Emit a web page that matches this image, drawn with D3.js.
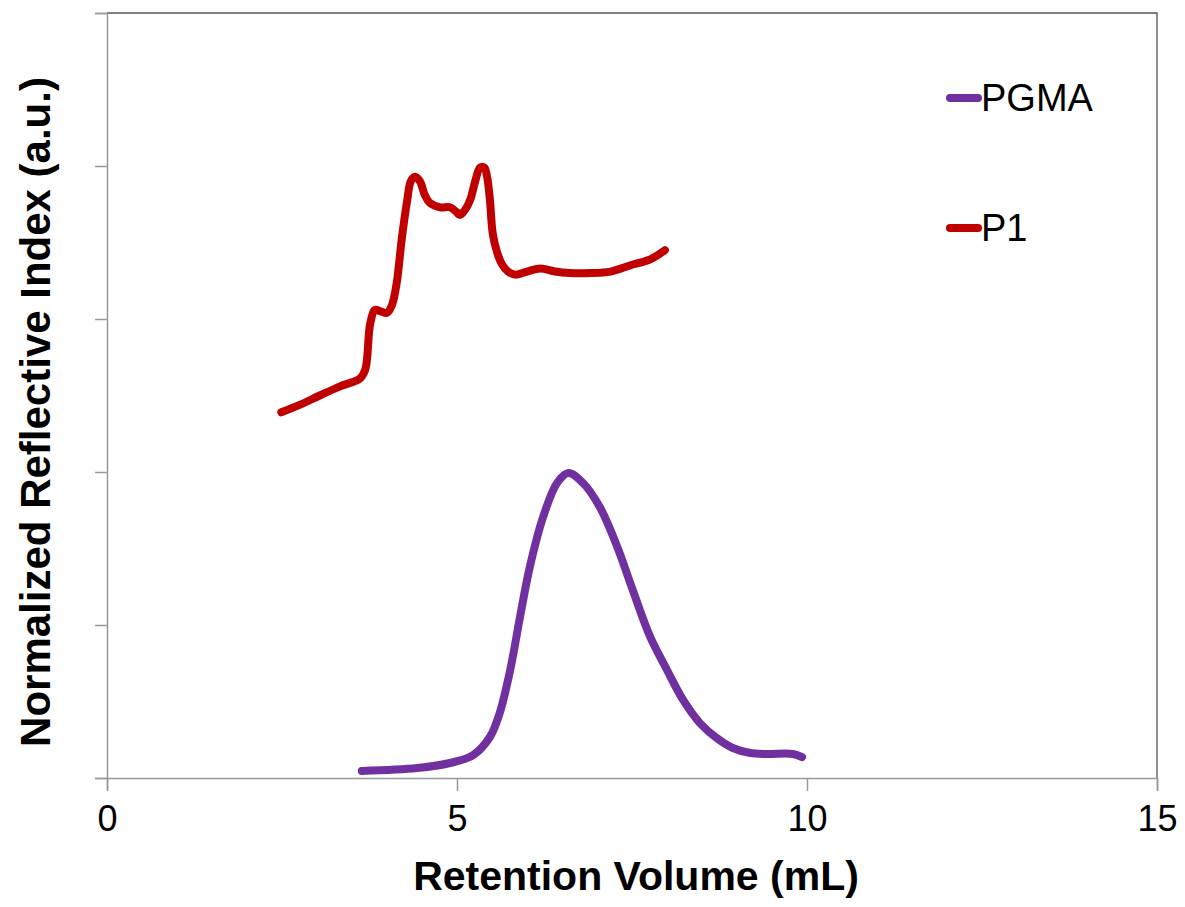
<!DOCTYPE html>
<html>
<head>
<meta charset="utf-8">
<script src="https://cdn.jsdelivr.net/npm/d3@7"></script>
<style>
	body { margin: 0; background: #fff; }
	svg { font-family: "Liberation Sans", Arial, sans-serif; }
</style>
</head>
<body>
<svg width="1185" height="907"></svg>
<script>
// retention volume (mL) / normalized RI
var p1Volume = [2.49, 2.76, 3.04, 3.33, 3.61, 3.69, 3.76, 3.83, 3.91, 4.0, 4.07, 4.14, 4.21, 4.29, 4.34, 4.4,
	4.47, 4.54, 4.61, 4.76, 4.9, 4.99, 5.04, 5.11, 5.19, 5.26, 5.33, 5.39, 5.43, 5.47, 5.51, 5.57, 5.64,
	5.73, 5.83, 6.0, 6.19, 6.4, 6.61, 6.9, 7.19, 7.47, 7.76, 7.97];
var p1Signal = [2.39, 2.44, 2.5, 2.56, 2.61, 2.67, 2.97, 3.06, 3.05, 3.04, 3.09, 3.24, 3.52, 3.78, 3.9, 3.93,
	3.9, 3.81, 3.76, 3.73, 3.73, 3.7, 3.68, 3.71, 3.78, 3.9, 3.99, 3.99, 3.93, 3.78, 3.56, 3.44, 3.36,
	3.31, 3.29, 3.31, 3.33, 3.31, 3.3, 3.3, 3.31, 3.35, 3.39, 3.45];

var pgmaVolume = [3.64, 4.43, 4.9, 5.23, 5.47, 5.61, 5.76, 5.9, 6.04, 6.23, 6.43, 6.59, 6.8, 7.04, 7.29,
	7.51, 7.76, 8.0, 8.23, 8.47, 8.71, 8.94, 9.19, 9.43, 9.8, 9.93];
var pgmaSignal = [0.046, 0.065, 0.098, 0.15, 0.268, 0.425, 0.706, 1.052, 1.379, 1.706, 1.928, 1.993, 1.928,
	1.771, 1.51, 1.229, 0.922, 0.706, 0.51, 0.359, 0.261, 0.196, 0.163, 0.157, 0.157, 0.137];

var xTicks = [0, 5, 10, 15];
var yTicks = [0, 1, 2, 3, 4, 5];

var seriesNames = ["PGMA", "P1"];
var seriesColors = ["#7030A0", "#C00000"];

var svg = d3.select("svg"),
    margin = {top: 13, right: 28, bottom: 129, left: 107},
    width = 1185 - margin.left - margin.right,
    height = 907 - margin.top - margin.bottom;

var x = d3.scaleLinear().domain([0, 15]).range([0, width]),
    y = d3.scaleLinear().domain([0, 5]).range([height, 0]);

var g = svg.append("g")
    .attr("transform", "translate(" + margin.left + "," + margin.top + ")");

// frame top + right
g.append("path")
    .attr("d", "M0,0H" + width + "V" + height)
    .attr("fill", "none")
    .attr("stroke", "#555")
    .attr("stroke-width", 1.3);

var xAxis = g.append("g")
    .attr("transform", "translate(0," + height + ")")
    .call(d3.axisBottom(x).tickValues(xTicks).tickSize(13).tickPadding(14).tickFormat(d3.format("d")));
xAxis.selectAll("text").style("font-size", "36px").attr("fill", "#000");

var yAxis = g.append("g")
    .call(d3.axisLeft(y).tickValues(yTicks).tickSize(12).tickFormat(""));

g.selectAll(".domain").attr("stroke", "#999").attr("stroke-width", 1.5);
g.selectAll(".tick line").attr("stroke", "#999").attr("stroke-width", 1.5);

var line = d3.line()
    .x(function(d) { return x(d[0]); })
    .y(function(d) { return y(d[1]); })
    .curve(d3.curveCatmullRom.alpha(0.5));

var series = [
	d3.zip(pgmaVolume, pgmaSignal),
	d3.zip(p1Volume, p1Signal)
];

g.selectAll(".series").data(series)
  .enter().append("path")
    .attr("class", "series")
    .attr("fill", "none")
    .attr("stroke", function(d, i) { return seriesColors[i]; })
    .attr("stroke-width", 8)
    .attr("stroke-linecap", "round")
    .attr("stroke-linejoin", "round")
    .attr("d", line);

// legend
var legend = svg.append("g").selectAll("g").data(seriesNames)
  .enter().append("g")
    .attr("transform", function(d, i) { return "translate(948," + (98 + i * 130) + ")"; });

legend.append("line")
    .attr("x1", 2).attr("x2", 30)
    .attr("stroke", function(d, i) { return seriesColors[i]; })
    .attr("stroke-width", 8)
    .attr("stroke-linecap", "round");

legend.append("text")
    .attr("x", 33)
    .attr("y", 13)
    .style("font-size", "38px")
    .text(function(d) { return d; });

svg.append("text")
    .attr("x", margin.left + width / 2 + 4)
    .attr("y", 890)
    .attr("text-anchor", "middle")
    .style("font-size", "41px")
    .style("font-weight", "bold")
    .text("Retention Volume (mL)");

svg.append("text")
    .attr("transform", "translate(50,412) rotate(-90)")
    .attr("text-anchor", "middle")
    .style("font-size", "42px")
    .style("font-weight", "bold")
    .text("Normalized Reflective Index (a.u.)");
</script>
</body>
</html>
